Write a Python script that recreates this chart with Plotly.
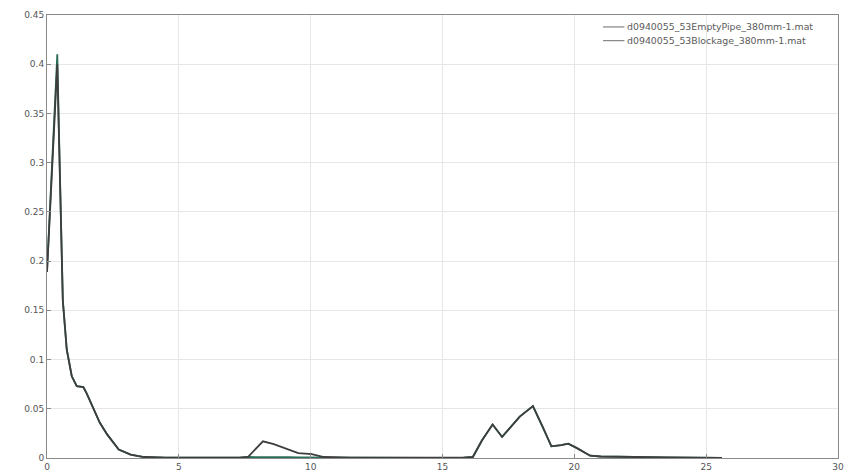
import plotly.graph_objects as go

# x positions (shared)
x_vals = [0, 0.1, 0.2, 0.3, 0.39, 0.45, 0.52, 0.6, 0.75, 0.94, 1.13, 1.38, 1.5, 1.77,
          2.0, 2.28, 2.72, 3.17, 3.68, 4.5, 5.5, 6.5, 7.3, 7.62, 8.19, 8.6, 9.15, 9.53,
          10.04, 10.5, 11.5, 13, 14.5, 15.8, 16.15, 16.5, 16.9, 17.26, 17.93, 18.43, 18.8,
          19.13, 19.5, 19.77, 20.1, 20.6, 21.0, 22.0, 23.5, 25.6]

empty_pipe = [0.189, 0.24, 0.30, 0.355, 0.40, 0.33, 0.26, 0.16, 0.11, 0.083, 0.073, 0.072,
              0.066, 0.05, 0.036, 0.024, 0.0085, 0.0034, 0.001, 0.0003, 0.0002, 0.0002,
              0.0003, 0.001, 0.017, 0.014, 0.0085, 0.005, 0.004, 0.001, 0.0003, 0.0002,
              0.0002, 0.0003, 0.001, 0.018, 0.034, 0.0214, 0.042, 0.0527, 0.032, 0.0118,
              0.013, 0.0146, 0.010, 0.0023, 0.0015, 0.001, 0.0005, 0.0002]

blockage = [0.189, 0.245, 0.305, 0.365, 0.41, 0.335, 0.26, 0.16, 0.11, 0.083, 0.073, 0.072,
            0.066, 0.05, 0.036, 0.024, 0.0085, 0.0034, 0.001, 0.0003, 0.0002, 0.0002,
            0.0003, 0.001, 0.0012, 0.001, 0.0008, 0.0006, 0.0005, 0.0004, 0.0003, 0.0002,
            0.0002, 0.0003, 0.001, 0.018, 0.034, 0.0214, 0.042, 0.0527, 0.032, 0.0118,
            0.013, 0.0146, 0.010, 0.0023, 0.0015, 0.001, 0.0005, 0.0002]

names = ["d0940055_53EmptyPipe_380mm-1.mat", "d0940055_53Blockage_380mm-1.mat"]
legend_colors = ["#6a6a6a", "#6a706c"]
x_ticks = [0, 5, 10, 15, 20, 25, 30]
y_ticks = [0, 0.05, 0.1, 0.15, 0.2, 0.25, 0.3, 0.35, 0.4, 0.45]
y_tick_text = ["0", "0.05", "0.1", "0.15", "0.2", "0.25", "0.3", "0.35", "0.4", "0.45"]

fig = go.Figure()
fig.add_trace(go.Scatter(x=x_vals, y=blockage, mode="lines", name=names[1],
                         line=dict(color="#2a6e5a", width=1.8), showlegend=False))
fig.add_trace(go.Scatter(x=x_vals, y=empty_pipe, mode="lines", name=names[0],
                         line=dict(color="#3e3e3e", width=1.8), showlegend=False))

# legend drawn as compact text rows with line samples (paper coordinates)
row_y = [0.973, 0.942]
for i, nm in enumerate(names):
    fig.add_shape(type="line", xref="paper", yref="paper",
                  x0=0.703, x1=0.730, y0=row_y[i], y1=row_y[i],
                  line=dict(color=legend_colors[i], width=1))
    fig.add_annotation(xref="paper", yref="paper", x=0.731, y=row_y[i],
                       xanchor="left", yanchor="middle", showarrow=False,
                       text=nm, font=dict(family="DejaVu Sans", size=9.4, color="#5a5a5a"))

axis_common = dict(showline=True, linecolor="#8a8a8a", linewidth=1, mirror=True,
                   ticks="inside", ticklen=4, tickcolor="#8a8a8a", automargin=False,
                   showgrid=True, gridcolor="#e6e6e6", gridwidth=1, zeroline=False,
                   tickfont=dict(family="DejaVu Sans", size=9, color="#555555"))

fig.update_layout(
    width=850, height=473,
    margin=dict(l=47, r=12, t=15, b=15, autoexpand=False),
    paper_bgcolor="white", plot_bgcolor="white",
    xaxis=dict(range=[0, 30], tickvals=x_ticks, **axis_common),
    yaxis=dict(range=[0, 0.45], tickvals=y_ticks, ticktext=y_tick_text, **axis_common),
    showlegend=False,
)

fig.write_html("out.html", config={"displayModeBar": False},
               post_script="document.body.style.margin='0';document.body.style.overflow='hidden';")
